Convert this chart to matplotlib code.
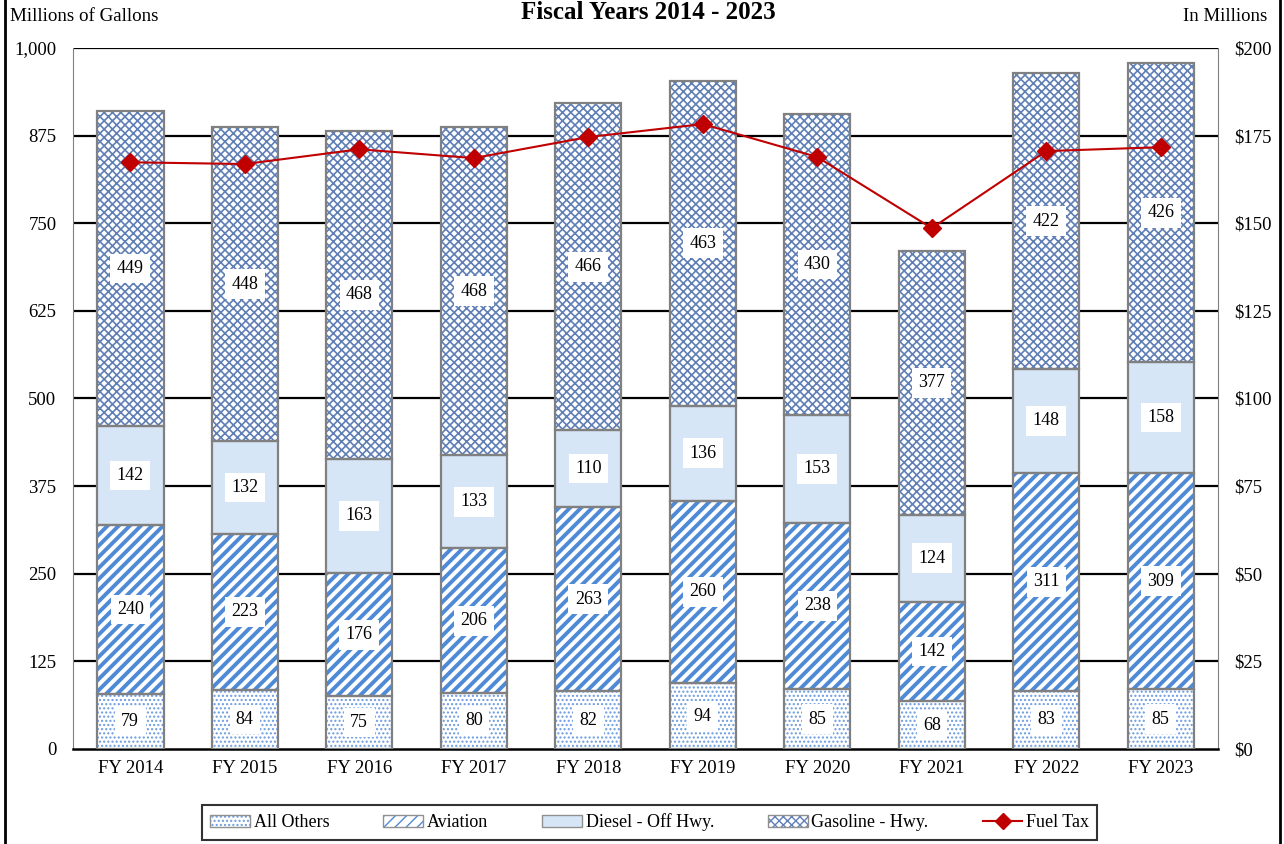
import numpy as np
import matplotlib.pyplot as plt
from matplotlib.patches import Patch
from matplotlib.lines import Line2D

plt.rcParams['font.family'] = ['Liberation Serif', 'DejaVu Serif']

years = ['FY 2014', 'FY 2015', 'FY 2016', 'FY 2017', 'FY 2018',
         'FY 2019', 'FY 2020', 'FY 2021', 'FY 2022', 'FY 2023']
all_others = [79, 84, 75, 80, 82, 94, 85, 68, 83, 85]
aviation = [240, 223, 176, 206, 263, 260, 238, 142, 311, 309]
diesel = [142, 132, 163, 133, 110, 136, 153, 124, 148, 158]
gasoline = [449, 448, 468, 468, 466, 463, 430, 377, 422, 426]
fuel_tax = [167.4, 166.9, 171.1, 168.6, 174.6, 178.3, 168.9, 148.6, 170.6, 171.7]

# name, values, face, hatch colour, hatch, hatch line width
series = [
    ('All Others', all_others, 'white', '#6a9be0', '....', 1.0),
    ('Aviation', aviation, 'white', '#4f8ad6', '///', 2.8),
    ('Diesel - Off Hwy.', diesel, '#d7e6f6', '#d7e6f6', None, 1.0),
    ('Gasoline - Hwy.', gasoline, 'white', '#5f7fb5', 'xxxx', 1.2),
]

fig = plt.figure(figsize=(12.84, 8.44), dpi=100)
ax = fig.add_axes([0.0569, 0.1126, 0.8917, 0.8305])

x = np.arange(len(years))
w = 0.58
bottom = np.zeros(len(years))
handles = []
for name, vals, fc, hc, hatch, hlw in series:
    vals = np.array(vals, dtype=float)
    with plt.rc_context({'hatch.linewidth': hlw}):
        ax.bar(x, vals, w, bottom=bottom, color=fc, edgecolor=hc, hatch=hatch,
               linewidth=0, zorder=2)
        fill = Patch(facecolor=fc, edgecolor=hc, hatch=hatch, linewidth=0)
    outline = Patch(facecolor='none', edgecolor='#909090', linewidth=1.0)
    handles.append((fill, outline))
    ax.bar(x, vals, w, bottom=bottom, facecolor='none', edgecolor='#808080',
           linewidth=1.6, zorder=3)
    for xi, b, v in zip(x, bottom, vals):
        ax.text(xi, b + v / 2, f'{int(v)}', ha='center', va='center', fontsize=13,
                zorder=5, bbox=dict(facecolor='white', edgecolor='none', pad=4.5))
    bottom += vals

ax.set_xlim(-0.5, len(years) - 0.5)
ax.set_ylim(0, 1000)
ax.set_yticks(np.arange(0, 1001, 125))
ax.set_yticklabels([f'{v:,}' for v in range(0, 1001, 125)])
ax.set_xticks(x)
ax.set_xticklabels(years)
ax.tick_params(axis='both', length=0, labelsize=13.5, pad=8)
ax.tick_params(axis='y', pad=12)
for v in range(125, 1001, 125):
    ax.axhline(v, color='black', linewidth=1.6, zorder=1)
ax.spines['top'].set_visible(False)
ax.spines['left'].set_color('#808080')
ax.spines['right'].set_color('#808080')
ax.spines['bottom'].set_linewidth(1.8)

ax2 = ax.twinx()
ax2.plot(x, fuel_tax, color='#c00000', marker='D', markersize=9, linewidth=1.5, zorder=6)
ax2.set_ylim(0, 200)
ax2.set_yticks(np.arange(0, 201, 25))
ax2.set_yticklabels([f'${v}' for v in range(0, 201, 25)])
ax2.tick_params(axis='y', length=0, labelsize=13.5, pad=12)
for s in ax2.spines.values():
    s.set_visible(False)

handles.append(Line2D([], [], color='#c00000', marker='D', markersize=8, linewidth=1.5))
labels = [s[0] for s in series] + ['Fuel Tax']
leg = fig.legend(handles, labels, loc='center', bbox_to_anchor=(0.506, 0.0255), ncol=5,
                 fontsize=13, frameon=True, fancybox=False, edgecolor='black',
                 handlelength=2.2, handleheight=0.7, columnspacing=3.0, handletextpad=0.2,
                 borderpad=0.45)
leg.get_frame().set_linewidth(1.5)

fig.text(0.505, 0.999, 'Fiscal Years 2014 - 2023', ha='center', va='top',
         fontsize=18, fontweight='bold')
fig.text(0.008, 0.981, 'Millions of Gallons', ha='left', va='center', fontsize=13.7)
fig.text(0.987, 0.981, 'In Millions', ha='right', va='center', fontsize=13.5)

fig.add_artist(Line2D([0.004, 0.004], [0, 1], color='black', linewidth=2,
                      transform=fig.transFigure))
fig.add_artist(Line2D([0.9965, 0.9965], [0, 1], color='black', linewidth=2,
                      transform=fig.transFigure))

fig.savefig('out.png', dpi=100)
